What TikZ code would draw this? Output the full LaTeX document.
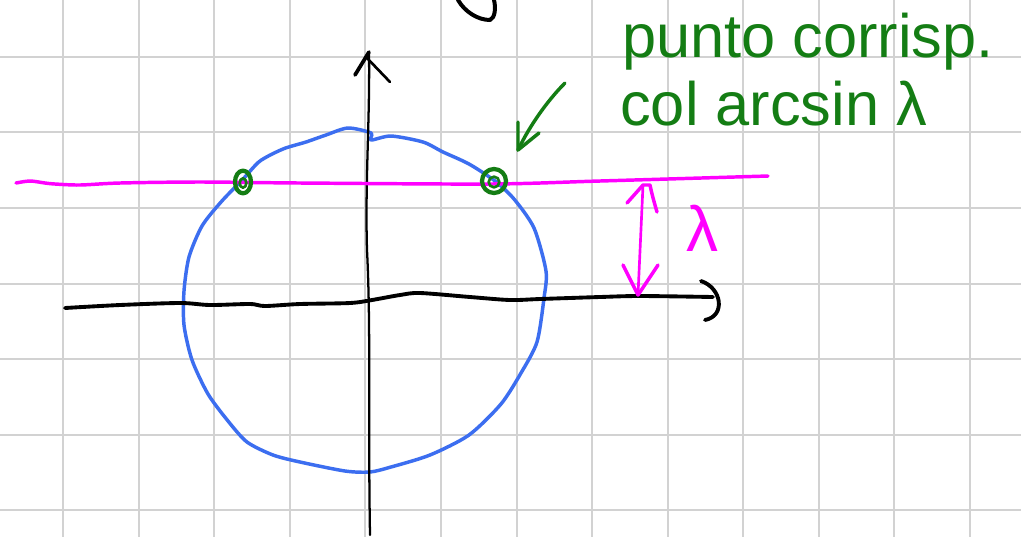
\documentclass[tikz,border=0pt]{standalone}
\usepackage{fontspec}
\setmainfont{Liberation Sans}
\definecolor{penblue}{RGB}{60,110,240}
\definecolor{pengreen}{RGB}{20,125,20}
\definecolor{penmag}{RGB}{255,0,255}
\begin{document}
\begin{tikzpicture}[x=0.75pt,y=-0.75pt,
  gridline/.style={draw=gray!35,line width=1.5pt},
  ink/.style={line width=2.6pt,line cap=round,line join=round},
  axis/.style={ink,draw=black},
  circ/.style={ink,draw=penblue},
  mag/.style={ink,draw=penmag},
  grn/.style={ink,draw=pengreen},
  note/.style={text=pengreen,font=\fontsize{46}{50}\selectfont,anchor=base west,inner sep=0pt}]
\useasboundingbox (0,0) rectangle (1021,537);
\fill[white] (0,0) rectangle (1021,537);
% grid
\foreach \k in {0,...,12} \draw[gridline] ({63.2+75.55*\k},0) -- ({63.2+75.55*\k},537);
\foreach \k in {0,...,6} \draw[gridline] (0,{56.8+75.6*\k}) -- (1021,{56.8+75.6*\k});
% top scribble
\draw[axis,line width=3pt] (458,0) .. controls (465,12) and (478,20) .. (490,20) .. controls (495,18) and (496,8) .. (494,0);
% blue circle
\draw[circ] plot[smooth cycle,tension=0.45] coordinates {
 (348,128) (371,133) (371,140) (391,136) (423,142) (443,152) (469,164) (495,181)
 (514,199) (534,228) (546,271) (544,298) (537,342) (521,373) (501,404) (469,435)
 (430,455) (391,467) (370,472) (345,471) (300,462) (273,455) (247,442) (228,421)
 (208,394) (192,360) (184,325) (184,291) (189,257) (202,226) (221,202) (244,178)
 (260,161) (283,149) (306,142) (326,135)};
% vertical axis
\coordinate (ytip) at (369,52);
\draw[axis,line width=1.7pt] (370,535) .. controls (368,420) and (371,330) .. (367,250) .. controls (365,180) and (370,120) .. (ytip);
\draw[axis,line width=2.8pt] (355,75) -- (ytip);
\draw[axis,line width=2pt] (366,57) -- (390,82);
% horizontal axis
\coordinate (xtip) at (713,297);
\draw[axis,line width=2.9pt] plot[smooth,tension=0.5] coordinates {
 (65,308) (120,305) (180,303) (210,305) (250,304) (265,306) (300,304) (350,303)
 (372,300) (400,295) (420,293) (470,297) (510,300) (540,299) (600,297) (640,296) (xtip)};
\draw[axis,line width=2.9pt] (701,281) .. controls (722,288) and (726,316) .. (705,320);
% magenta line
\draw[mag] plot[smooth,tension=0.5] coordinates {
 (16,183) (30,181) (45,183) (55,184) (80,185) (120,183) (200,182) (300,183) (490,184) (600,181) (768,176)};
% magenta double arrow
\coordinate (mtop) at (643,185);
\coordinate (mbot) at (638,295);
\draw[mag,line width=2pt] (mtop) -- (mbot);
\draw[mag] (627,203) -- (mtop) -- (650,185) .. controls (652,195) and (655,205) .. (657,212);
\draw[mag] (623,265) -- (mbot) -- (658,265);
\node[text=penmag,font=\fontsize{48}{48}\selectfont,inner sep=0pt] (lam) at (702,228) {λ};
% green points
\draw[grn,line width=3.2pt] (243,182) ellipse [x radius=6pt,y radius=8.5pt];
\draw[grn,line width=2pt] (243,183) ellipse [x radius=2.5pt,y radius=3.5pt];
\draw[grn,line width=3.2pt] (494,181) ellipse [x radius=9pt,y radius=9pt];
\draw[grn,line width=2pt] (494,182) ellipse [x radius=4pt,y radius=4pt];
% green arrow
\coordinate (gtip) at (518,150);
\draw[grn] (565,83) .. controls (548,100) and (530,125) .. (gtip);
\draw[grn] (518,122) -- (gtip) -- (539,133);
% note text
\node[note] (l1) at (622,57) {punto corrisp.};
\node[note] (l2) at (620,125) {col arcsin λ};
\end{tikzpicture}
\end{document}
